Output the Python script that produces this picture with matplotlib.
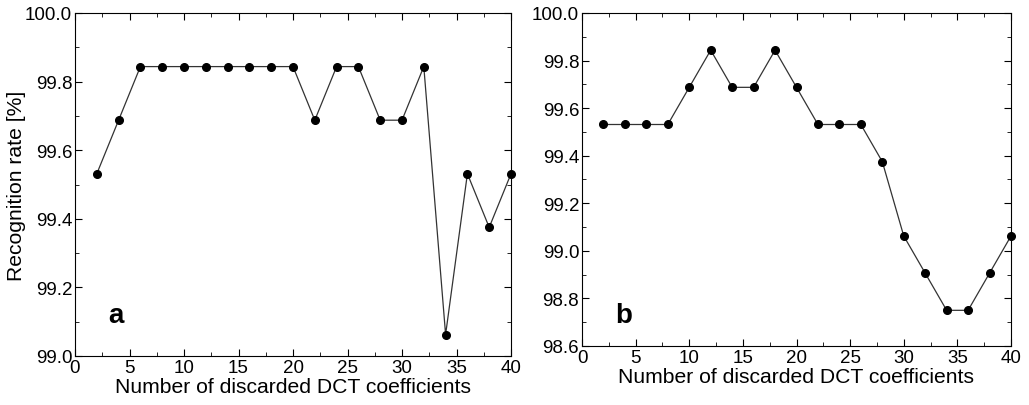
import matplotlib
matplotlib.use("Agg")
import matplotlib.pyplot as plt
from matplotlib.ticker import MultipleLocator, FormatStrFormatter

plt.rcParams['font.family'] = ['Liberation Sans', 'DejaVu Sans']

x = list(range(2, 42, 2))
rate_a = [99.53125, 99.6875, 99.84375, 99.84375, 99.84375, 99.84375, 99.84375, 99.84375, 99.84375, 99.84375,
          99.6875, 99.84375, 99.84375, 99.6875, 99.6875, 99.84375, 99.0625, 99.53125, 99.375, 99.53125]
rate_b = [99.53125, 99.53125, 99.53125, 99.53125, 99.6875, 99.84375, 99.6875, 99.6875, 99.84375, 99.6875,
          99.53125, 99.53125, 99.53125, 99.375, 99.0625, 98.90625, 98.75, 98.75, 98.90625, 99.0625]
xlabel = "Number of discarded DCT coefficients"
ylabel = "Recognition rate [%]"

W, H = 1029, 406
fig = plt.figure(figsize=(W/100, H/100), dpi=100)
ax1 = fig.add_axes([75/W, 1-357/H, (511-75)/W, (357-14)/H])
ax2 = fig.add_axes([582/W, 1-347/H, (1011-582)/W, (347-14)/H])

def style(ax, ylim, label, pos):
    ax.set_xlim(0, 40)
    ax.set_ylim(*ylim)
    ax.xaxis.set_major_locator(MultipleLocator(5))
    ax.xaxis.set_minor_locator(MultipleLocator(2.5))
    ax.yaxis.set_major_locator(MultipleLocator(0.2))
    ax.yaxis.set_minor_locator(MultipleLocator(0.1))
    ax.yaxis.set_major_formatter(FormatStrFormatter('%.1f'))
    ax.tick_params(which='both', direction='in', top=True, right=True, labelsize=13.5, pad=2)
    ax.tick_params(which='major', length=5)
    ax.tick_params(which='minor', length=3)
    ax.set_xlabel(xlabel, fontsize=15.2, labelpad=1)
    ax.text(pos[0], pos[1], label, transform=ax.transAxes, fontsize=20, fontweight='bold')

ax1.plot(x, rate_a, '-o', color='#333333', lw=0.9, mfc='black', mec='black', ms=5.5, clip_on=False)
ax2.plot(x, rate_b, '-o', color='#333333', lw=0.9, mfc='black', mec='black', ms=5.5, clip_on=False)
style(ax1, (99.0, 100.0), 'a', (0.076, 0.099))
style(ax2, (98.6, 100.0), 'b', (0.077, 0.072))
ax1.set_ylabel(ylabel, fontsize=15.2)
ax1.yaxis.set_label_coords((26 - 75) / (511 - 75), 0.5)
fig.savefig('out.png', dpi=100)
